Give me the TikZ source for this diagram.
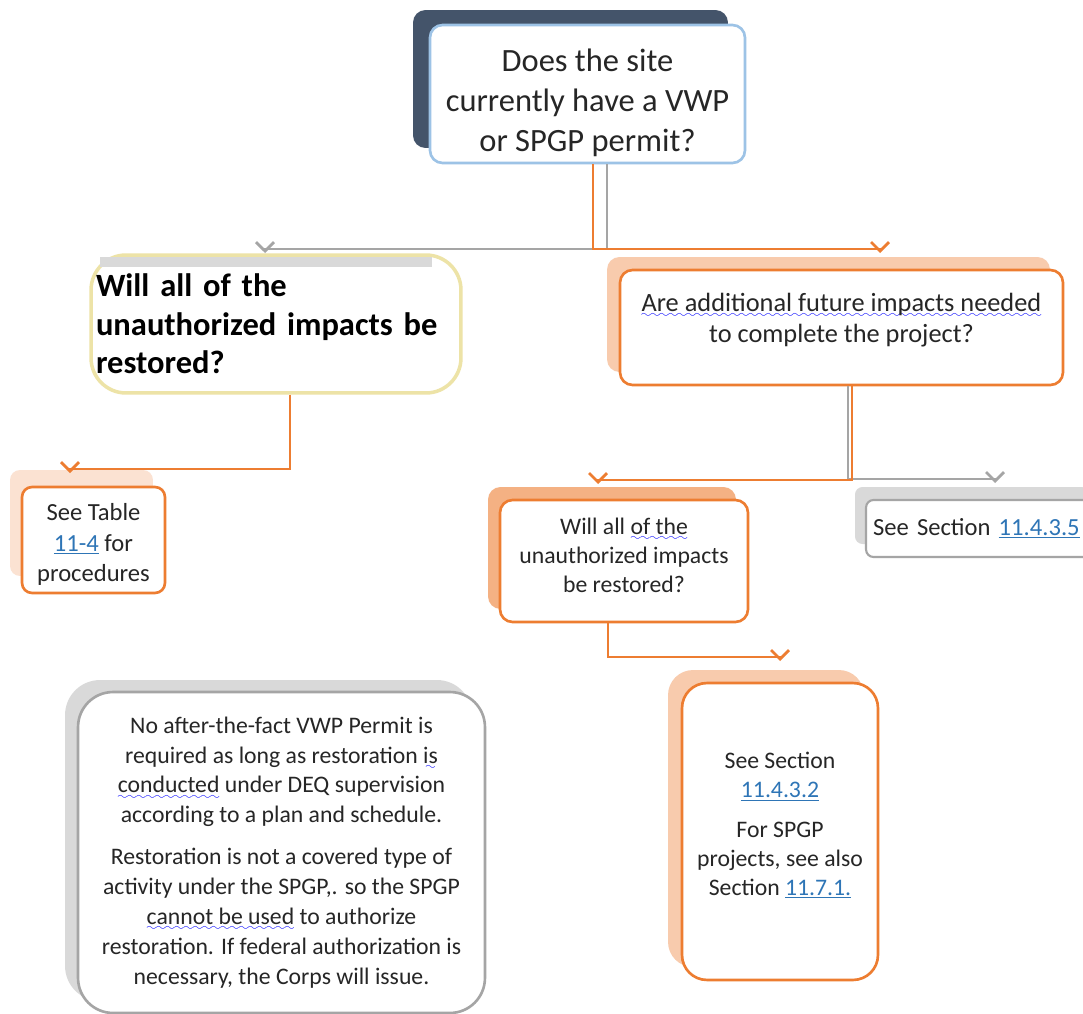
\documentclass[tikz,border=0pt]{standalone}
\usepackage{fontspec}
\setmainfont{Carlito}
\usepackage{xcolor}
\usepackage{tikz}
\usetikzlibrary{arrows.meta}
\usetikzlibrary{positioning}
\usetikzlibrary{shadows}

\definecolor{boxorange}{HTML}{ED7D31}
\definecolor{shadeorange}{HTML}{F4B183}
\definecolor{lightorange}{HTML}{F8CBAD}
\definecolor{paleorange}{HTML}{FBE2D2}
\definecolor{boxgray}{HTML}{A5A5A5}
\definecolor{shadegray}{HTML}{D9D9D9}
\definecolor{slate}{HTML}{44546A}
\definecolor{skyblue}{HTML}{9DC3E6}
\definecolor{sand}{HTML}{EDE3A7}
\definecolor{linkblue}{HTML}{2E75B6}
\definecolor{inkgray}{HTML}{262626}

\font\wavyfont=lasy6
\newcommand{\squig}[1]{\setbox0\hbox{#1}\rlap{\lower3.5pt\hbox to \wd0{\color{blue}\xleaders\hbox{\wavyfont\char58}\hfill}}\box0\relax}
\newcommand{\lnk}[1]{\textcolor{linkblue}{$\underline{\hbox{#1}}$}}

\begin{document}
\begin{tikzpicture}[x=0.02cm, y=-0.02cm, >={Straight Barb[length=0.18cm, width=0.36cm]}]
\tikzstyle{card} = [rectangle, rounded corners=0.25cm, fill=white, line width=1.5pt, text=inkgray, align=center, inner sep=0.1cm]
\tikzstyle{orline} = [->, draw=boxorange, line width=1.6pt]
\tikzstyle{grline} = [->, draw=boxgray, line width=1.6pt]

\fill[white] (0,0) rectangle (1083,1014);
\useasboundingbox (0,0) rectangle (1083,1014);

\node[card, draw=skyblue, minimum width=6.3cm, minimum height=2.76cm, general shadow={shadow xshift=-0.34cm, shadow yshift=0.3cm, fill=slate}, font=\fontsize{18.5}{23}\selectfont] (A) at (587.5,94) {\rule{0pt}{23pt}Does the site\\currently have a VWP\\or SPGP permit?};
\node[card, draw=sand, line width=2pt, rounded corners=0.7cm, minimum width=7.36cm, minimum height=2.76cm, text width=7.2cm, align=left, text=black, font=\bfseries\fontsize{18.5}{22}\selectfont] (B) at (276,324) {Will all of the\\unauthorized impacts be\\restored?};
\fill[shadegray] (100,257) rectangle (432,267);
\node[card, draw=boxorange, minimum width=8.86cm, minimum height=2.3cm, general shadow={shadow xshift=-0.26cm, shadow yshift=0.26cm, fill=lightorange}, font=\fontsize{15}{18}\selectfont] (C) at (841.5,327.5) {\squig{Are additional future impacts needed}\\to complete the project?\rule[-11pt]{0pt}{0pt}};
\node[card, draw=boxorange, rounded corners=0.2cm, minimum width=2.86cm, minimum height=2.12cm, general shadow={shadow xshift=-0.24cm, shadow yshift=0.34cm, fill=paleorange}, font=\fontsize{14}{17.5}\selectfont] (D) at (93.5,540) {\rule{0pt}{15pt}See Table\\\lnk{11-4} for\\procedures};
\node[card, draw=boxorange, minimum width=4.96cm, minimum height=2.44cm, general shadow={shadow xshift=-0.24cm, shadow yshift=0.26cm, fill=shadeorange}, font=\fontsize{13.5}{16.5}\selectfont] (E) at (624,561) {Will all \squig{of the}\\unauthorized impacts\\be restored?\rule[-7pt]{0pt}{0pt}};
\node[card, draw=boxgray, line width=1.2pt, rounded corners=0.15cm, minimum width=4.68cm, minimum height=1.14cm, text width=4.4cm, align=left, general shadow={shadow xshift=-0.22cm, shadow yshift=0.26cm, fill=shadegray}, font=\fontsize{14}{17}\selectfont] (F) at (983,528.5) {See Section \lnk{11.4.3.5}};
\node[card, draw=boxorange, rounded corners=0.5cm, minimum width=3.92cm, minimum height=5.94cm, general shadow={shadow xshift=-0.28cm, shadow yshift=0.26cm, fill=lightorange}, font=\fontsize{13.5}{16.5}\selectfont] (G) at (780,831.5) {See Section\\\lnk{11.4.3.2}\\[6pt]For SPGP\\projects, see also\\Section \lnk{11.7.1.}\rule[-9pt]{0pt}{0pt}};
\node[card, draw=boxgray, rounded corners=0.7cm, minimum width=8.14cm, minimum height=6.42cm, general shadow={shadow xshift=-0.26cm, shadow yshift=0.24cm, fill=shadegray}, font=\fontsize{13.5}{17}\selectfont] (H) at (281.5,852.5) {No after-the-fact VWP Permit is\\required as long as restoration \squig{is}\\\squig{conducted} under DEQ supervision\\according to a plan and schedule.\\[7pt]Restoration is not a covered type of\\activity under the SPGP,. so the SPGP\\\squig{cannot be used} to authorize\\restoration. If federal authorization is\\necessary, the Corps will issue.};

\coordinate (Bin) at (265,249);
\coordinate (Cin) at (880,249);
\coordinate (Din) at (70,469);
\coordinate (Ein) at (598,480);
\coordinate (Fin) at (995,479);
\coordinate (Gin) at (780,657);

\draw[grline] ([xshift=0.39cm]A.south) |- (Bin) -- ++(0,4);
\draw[orline] ([xshift=0.11cm]A.south) |- (Cin) -- ++(0,4);
\draw[orline] ([xshift=0.28cm]B.south) |- (Din) -- ++(0,4);
\draw[grline] ([xshift=0.13cm]C.south) |- (Fin) -- ++(0,4);
\draw[orline] ([xshift=0.21cm]C.south) |- (Ein) -- ++(0,4);
\draw[orline] ([xshift=-0.32cm]E.south) |- (Gin) -- ++(0,4);

\end{tikzpicture}
\end{document}
